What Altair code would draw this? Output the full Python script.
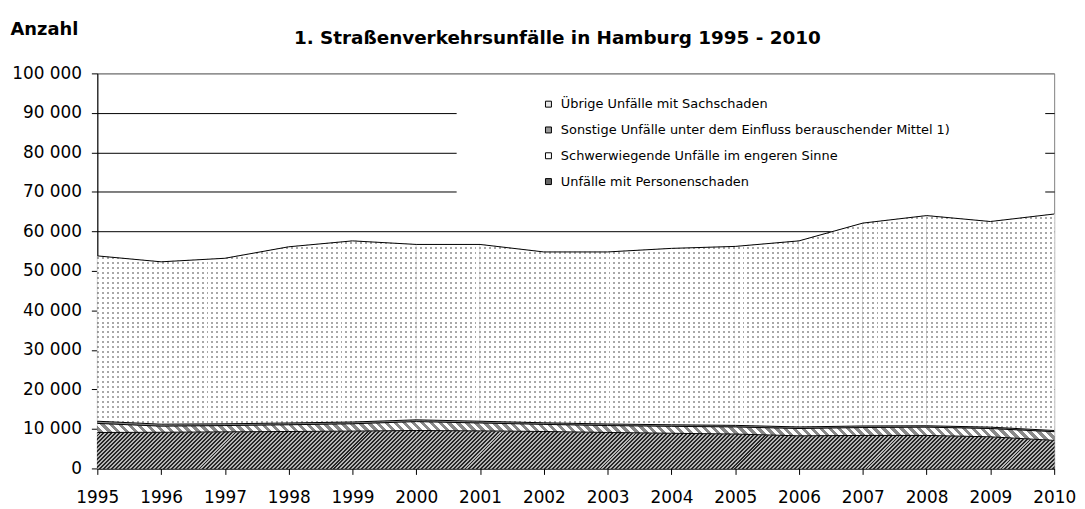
import math
import altair as alt
import pandas as pd

# ---------------- data ----------------
years = list(range(1995, 2011))
personen = [9100, 9150, 9250, 9350, 9450, 9600, 9500, 9350, 9100, 8900, 8700, 8250, 8350, 8350, 8000, 7100]
schwer = [2300, 1550, 1600, 1700, 1850, 2250, 2000, 1800, 1750, 1750, 1800, 1850, 2000, 2100, 2100, 2200]
sonstige = [550, 500, 450, 450, 450, 450, 450, 400, 400, 400, 400, 400, 400, 350, 350, 300]
uebrige = [41850, 41100, 41900, 44600, 45850, 44400, 44750, 43250, 43550, 44650, 45300, 47100, 51350, 53200, 52050, 54800]

names = [
    "Unfälle mit Personenschaden",
    "Schwerwiegende Unfälle im engeren Sinne",
    "Sonstige Unfälle unter dem Einfluss berauschender Mittel 1)",
    "Übrige Unfälle mit Sachschaden",
]
series_values = [personen, schwer, sonstige, uebrige]
legend_order = [names[3], names[2], names[1], names[0]]
legend_colors = ["#e8e8e8", "#9a9a9a", "#ffffff", "#666666"]
y_ticks = list(range(0, 100001, 10000))

title_text = "1. Straßenverkehrsunfälle in Hamburg 1995 - 2010"
y_title = "Anzahl"

W, H = 964, 398
YMAX = 100000
FONT = "DejaVu Sans"
BLANK = "\u2800"   # invisible, not trimmed

# ---------------- stacked table ----------------
rows = []
cum = [0] * len(years)
for name, vals in zip(names, series_values):
    for i, (yr, v) in enumerate(zip(years, vals)):
        rows.append({"year": yr, "series": name, "lo": cum[i], "hi": cum[i] + v})
    cum = [c + v for c, v in zip(cum, vals)]
df = pd.DataFrame(rows)

# one row pair per year interval, so each patterned piece gets its own fill
seg_rows = []
for name in names:
    d = df[df.series == name].reset_index(drop=True)
    for i in range(len(years) - 1):
        for j in (i, i + 1):
            seg_rows.append({"year": d.year[j], "series": name, "seg": i, "lo": d.lo[j], "hi": d.hi[j]})
seg = pd.DataFrame(seg_rows)


def px(yr):
    return (yr - years[0]) / (years[-1] - years[0]) * W


def py(v):
    return H - v / YMAX * H


def pattern(x0, y0, w, h, period, duty, c1, c2, kind):
    """Linear gradient (objectBoundingBox) giving stripes aligned to page pixels."""
    a, b = {"up": (1, 1), "down": (1, -1), "col": (1, 0), "row": (0, 1)}[kind]
    corners = [a * (x0 + cx) + b * (y0 + cy) for cx in (0, w) for cy in (0, h)]
    u0 = math.floor(min(corners) / period) * period
    u1 = math.ceil(max(corners) / period) * period
    L = u1 - u0
    n = max(1, round(L / period))
    gx, gy = a * w / L, b * h / L
    g2 = gx * gx + gy * gy
    c = (a * x0 + b * y0 - u0) / L
    x1, y1 = -c * gx / g2, -c * gy / g2
    x2, y2 = x1 + gx / g2, y1 + gy / g2
    stops = []
    for k in range(n):
        s0, sm, s1 = k / n, (k + duty) / n, (k + 1) / n
        stops += [{"offset": s0, "color": c1}, {"offset": sm, "color": c1},
                  {"offset": sm, "color": c2}, {"offset": s1, "color": c2}]
    return {"gradient": "linear", "stops": stops, "x1": x1, "y1": y1, "x2": x2, "y2": y2}


def seg_box(name, i):
    d = seg[(seg.series == name) & (seg.seg == i)]
    x0 = px(d.year.min())
    w = px(d.year.max()) - x0
    y0 = py(d.hi.max())
    h = py(d.lo.min()) - y0
    return x0, y0, w, h


# ---------------- encodings ----------------
x_enc = alt.X(
    "year:Q",
    scale=alt.Scale(domain=[years[0], years[-1]], nice=False, zero=False),
    axis=alt.Axis(
        values=years, format="d", grid=False, labelFlush=False, labelOverlap=False,
        labelFont=FONT, labelFontSize=17, labelColor="black", labelPadding=15,
        tickSize=6, tickColor="black", domainColor="black",
        title=title_text, titleX=463, titleY=-428, titleAlign="center",
        titleBaseline="alphabetic", titleFont=FONT, titleFontSize=18.5,
        titleFontWeight="bold", titleColor="black",
    ),
)
y_enc = alt.Y(
    "hi:Q",
    scale=alt.Scale(domain=[0, YMAX], nice=False),
    axis=alt.Axis(
        values=y_ticks, labelExpr="replace(format(datum.value, ','), ',', ' ')",
        labelFont=FONT, labelFontSize=17, labelColor="black", labelPadding=10,
        labelOverlap=False, tickSize=6, tickColor="black", domainColor="black",
        grid=True, gridWidth=1,
        gridColor={"condition": {"test": "datum.value === 100000", "value": "#808080"}, "value": "#000000"},
        title=y_title, titleAngle=0, titleX=-88, titleY=-39, titleAlign="left",
        titleBaseline="alphabetic", titleFont=FONT, titleFontSize=18,
        titleFontWeight="bold", titleColor="black",
    ),
)

seg_base = alt.Chart(seg)
layers = []


def seg_area(name, i, fill, overlay=None):
    out = []
    src = seg_base.transform_filter((alt.datum.series == name) & (alt.datum.seg == i))
    out.append(src.mark_area(fill=fill, stroke=fill, strokeWidth=0.6).encode(x=x_enc, y=y_enc, y2="lo:Q"))
    if overlay is not None:
        out.append(src.mark_area(fill=overlay).encode(x=x_enc, y=y_enc, y2="lo:Q"))
    return out


for i in range(len(years) - 1):
    x0, y0, w, h = seg_box(names[0], i)
    layers += seg_area(names[0], i, pattern(x0, y0, w, h, 4, 0.5, "#262626", "#b4b4b4", "up"))
for i in range(len(years) - 1):
    x0, y0, w, h = seg_box(names[1], i)
    layers += seg_area(names[1], i, pattern(x0, y0, w, h, 9, 0.5, "#8a8a8a", "#ffffff", "down"))

base = alt.Chart(df)
layers.append(
    base.transform_filter(alt.datum.series == names[2]).mark_area(fill="#8c8c8c").encode(
        x=x_enc, y=y_enc, y2="lo:Q")
)
for i in range(len(years) - 1):
    x0, y0, w, h = seg_box(names[3], i)
    layers += seg_area(
        names[3], i,
        pattern(x0, y0, w, h, 5, 0.4, "#a8a8a8", "#ffffff", "col"),
        overlay=pattern(x0, y0, w, h, 5, 0.4, "rgba(255,255,255,0)", "#ffffff", "row"),
    )

layers.append(base.mark_line(color="black", strokeWidth=1).encode(x=x_enc, y=y_enc, detail="series:N"))
layers.append(
    base.mark_square(opacity=0, stroke="black", strokeWidth=1).encode(
        x=x_enc, y=y_enc,
        color=alt.Color(
            "series:N",
            scale=alt.Scale(domain=legend_order, range=legend_colors),
            legend=alt.Legend(
                orient="none", legendX=362, legendY=14.5,
                title=BLANK, titleOrient="left", titlePadding=65, titleFontSize=13,
                titleFont=FONT,
                padding=10, fillColor="white",
                symbolType="square", symbolSize=36, symbolStrokeColor="black",
                symbolStrokeWidth=1, symbolOpacity=1,
                labelFont=FONT, labelFontSize=13, labelColor="black", labelOffset=6,
                labelLimit=1000, rowPadding=12,
                labelExpr="datum.label + (length(datum.label) > 50 ? pad('', 9, '" + BLANK + "') : '')",
            ),
        ),
    )
)

chart = alt.layer(*layers).properties(
    width=W, height=H,
    autosize=alt.AutoSizeParams(type="none"),
    padding={"left": 90, "top": 64, "right": 23, "bottom": 39},
    background="white",
).configure_view(stroke="#808080", strokeWidth=1)

chart.save("out.html", embed_options={"renderer": "svg", "actions": False})
